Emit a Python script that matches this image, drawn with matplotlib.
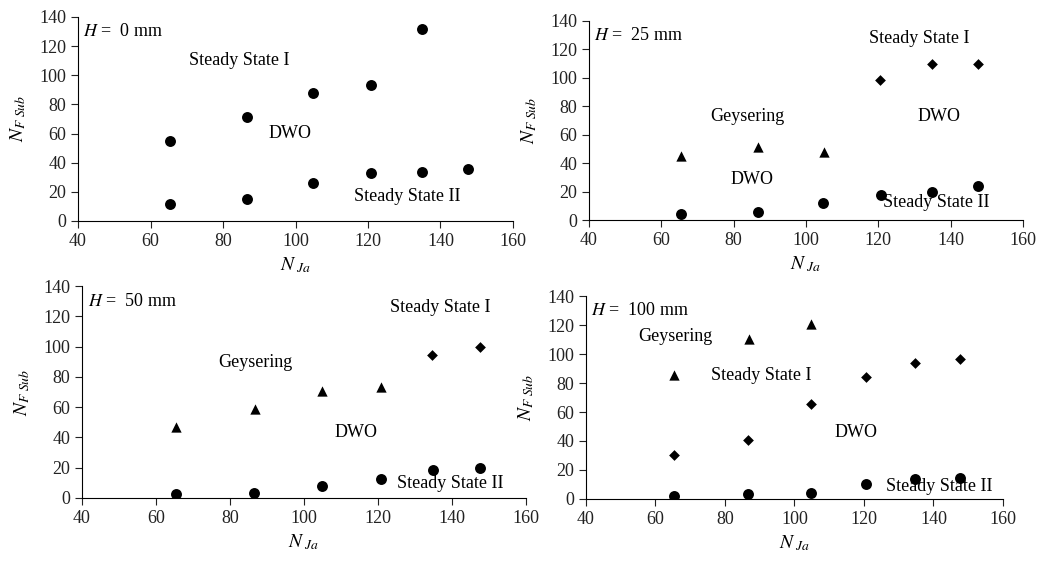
import matplotlib.pyplot as plt
import numpy as np

plt.rcParams['font.family'] = ['Liberation Serif', 'DejaVu Serif']
plt.rcParams['mathtext.fontset'] = 'stix'

# Datos
nja = [65.4, 86.6, 104.8, 120.7, 134.8, 147.5]

# H = 0 mm
h0_upper_x = [65.4, 86.6, 104.8, 120.7, 134.8]
h0_upper_y = [54.6, 71.5, 87.5, 93.6, 132.0]
h0_lower_y = [11.6, 15.3, 25.8, 33.1, 33.6, 35.4]

# H = 25 mm
h25_tri_x = [65.4, 86.6, 104.9]
h25_tri_y = [45.4, 51.3, 48.0]
h25_dia_x = [120.6, 134.8, 147.5]
h25_dia_y = [98.8, 109.8, 110.0]
h25_circ_y = [4.2, 5.9, 11.9, 17.6, 20.1, 23.7]

# H = 50 mm
h50_tri_x = [65.4, 86.7, 104.8, 120.8]
h50_tri_y = [46.7, 58.6, 70.5, 73.4]
h50_dia_x = [134.7, 147.6]
h50_dia_y = [94.6, 99.6]
h50_circ_y = [2.6, 3.5, 7.9, 12.6, 18.7, 19.8]

# H = 100 mm
h100_tri_x = [65.3, 86.8, 104.9]
h100_tri_y = [85.4, 110.6, 121.0]
h100_dia_y = [30.3, 40.6, 65.4, 84.2, 93.9, 96.6]
h100_circ_y = [2.1, 3.2, 4.1, 10.1, 13.5, 14.2]

fig = plt.figure(figsize=(10.49, 5.63), dpi=100)
ax1 = fig.add_axes([0.0744, 0.6075, 0.4146, 0.3625])
ax2 = fig.add_axes([0.5615, 0.609, 0.4137, 0.3537])
ax3 = fig.add_axes([0.0782, 0.1155, 0.4232, 0.3765])
ax4 = fig.add_axes([0.5586, 0.1137, 0.3975, 0.3605])

fs = 13
circ = dict(marker='o', color='black', s=62, linewidths=0)
tri = dict(marker='^', color='black', s=55, linewidths=0)
dia = dict(marker='D', color='black', s=30, linewidths=0)

def estilo(ax, h):
    ax.set_xlim(40, 160)
    ax.set_ylim(0, 140)
    ax.set_xticks(np.arange(40, 161, 20))
    ax.set_yticks(np.arange(0, 141, 20))
    ax.spines['top'].set_visible(False)
    ax.spines['right'].set_visible(False)
    ax.tick_params(labelsize=fs, length=5, direction='out', colors='#222222')
    ax.set_xlabel(r'$N_{\ Ja}$', fontsize=fs + 1, labelpad=4)
    ax.set_ylabel(r'$N_{F\ Sub}$', fontsize=fs + 1, labelpad=8)
    ax.text(41.5, 130, r'$H$ =  ' + h + ' mm', fontsize=fs, va='center', ha='left')

# H = 0
ax1.scatter(h0_upper_x, h0_upper_y, **circ)
ax1.scatter(nja, h0_lower_y, **circ)
estilo(ax1, '0')
ax1.text(84.4, 110.3, 'Steady State I', fontsize=fs, ha='center', va='center')
ax1.text(98.4, 60, 'DWO', fontsize=fs, ha='center', va='center')
ax1.text(130.8, 16.7, 'Steady State II', fontsize=fs, ha='center', va='center')

# H = 25
ax2.scatter(h25_tri_x, h25_tri_y, **tri)
ax2.scatter(h25_dia_x, h25_dia_y, **dia)
ax2.scatter(nja, h25_circ_y, **circ)
estilo(ax2, '25')
ax2.text(131.4, 128, 'Steady State I', fontsize=fs, ha='center', va='center')
ax2.text(83.8, 72.6, 'Geysering', fontsize=fs, ha='center', va='center')
ax2.text(136.7, 72.6, 'DWO', fontsize=fs, ha='center', va='center')
ax2.text(85.1, 28.8, 'DWO', fontsize=fs, ha='center', va='center')
ax2.text(135.9, 12.2, 'Steady State II', fontsize=fs, ha='center', va='center')

# H = 50
ax3.scatter(h50_tri_x, h50_tri_y, **tri)
ax3.scatter(h50_dia_x, h50_dia_y, **dia)
ax3.scatter(nja, h50_circ_y, **circ)
estilo(ax3, '50')
ax3.text(136.9, 125.9, 'Steady State I', fontsize=fs, ha='center', va='center')
ax3.text(86.8, 89.5, 'Geysering', fontsize=fs, ha='center', va='center')
ax3.text(114, 43, 'DWO', fontsize=fs, ha='center', va='center')
ax3.text(139.6, 9.5, 'Steady State II', fontsize=fs, ha='center', va='center')

# H = 100
ax4.scatter(h100_tri_x, h100_tri_y, **tri)
ax4.scatter(nja, h100_dia_y, **dia)
ax4.scatter(nja, h100_circ_y, **circ)
estilo(ax4, '100')
ax4.text(65.7, 111.8, 'Geysering', fontsize=fs, ha='center', va='center')
ax4.text(90.5, 84.9, 'Steady State I', fontsize=fs, ha='center', va='center')
ax4.text(117.7, 45.9, 'DWO', fontsize=fs, ha='center', va='center')
ax4.text(141.6, 8.5, 'Steady State II', fontsize=fs, ha='center', va='center')

fig.savefig('out.png', dpi=100)
